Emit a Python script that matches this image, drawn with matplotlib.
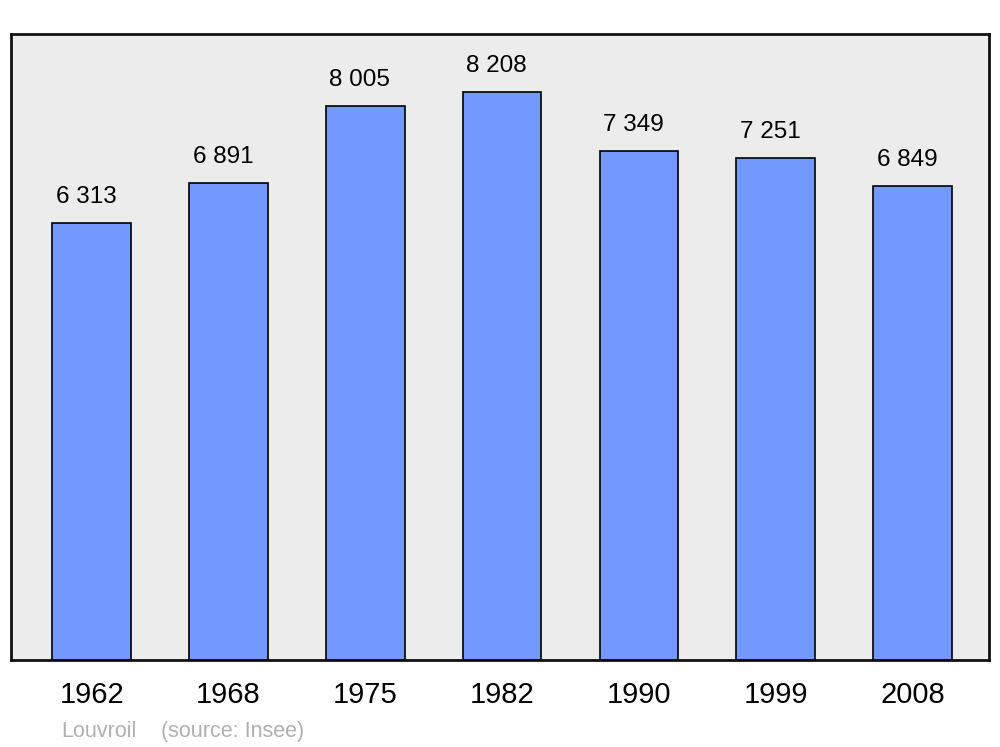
import matplotlib
matplotlib.use("Agg")
import matplotlib.pyplot as plt
import numpy as np

plt.rcParams['font.family'] = ['Liberation Sans', 'DejaVu Sans']

# population data
years = ['1962', '1968', '1975', '1982', '1990', '1999', '2008']
population = [6313, 6891, 8005, 8208, 7349, 7251, 6849]
value_labels = ['6 313', '6 891', '8 005', '8 208', '7 349', '7 251', '6 849']
town = 'Louvroil'
source = '(source: Insee)'

fig = plt.figure(figsize=(10, 7.47), dpi=100)
ax = fig.add_axes([0.011, 0.1165, 0.978, 0.838])
ax.set_facecolor('#ececec')

x = np.arange(len(years))
ax.bar(x, population, width=0.575, color='#7399ff', edgecolor='black', linewidth=1.2, zorder=2)

for xi, val, lab in zip(x, population, value_labels):
    ax.text(xi - 0.04, val + 220, lab, ha='center', va='bottom', fontsize=17.5)

ax.set_xlim(-0.59, 6.56)
ax.set_ylim(0, 9046)
ax.set_xticks(x)
ax.set_xticklabels(years, fontsize=21)
ax.tick_params(axis='x', length=0, pad=15)
ax.set_yticks([])
for s in ax.spines.values():
    s.set_linewidth(2)
    s.set_color('#111111')

fig.text(0.061, 0.013, town, fontsize=15.5, color='#b0b0b0')
fig.text(0.161, 0.013, source, fontsize=15.5, color='#b0b0b0')

fig.savefig('out.png', dpi=100)
